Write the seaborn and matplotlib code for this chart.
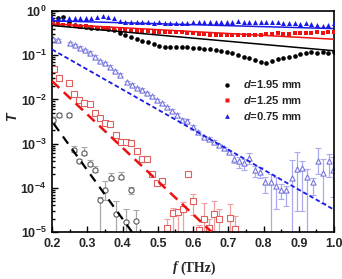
import numpy as np
import pandas as pd
import matplotlib
matplotlib.use("Agg")
import matplotlib.pyplot as plt
import seaborn as sns
from matplotlib.ticker import FixedLocator, FixedFormatter, LogLocator, NullFormatter, MultipleLocator
from matplotlib.lines import Line2D

# ---------------- data ----------------
f_fill = [0.200, 0.216, 0.232, 0.248, 0.264, 0.280, 0.296, 0.312, 0.328, 0.344,
          0.360, 0.376, 0.392, 0.408, 0.424, 0.440, 0.456, 0.472, 0.488, 0.504,
          0.520, 0.536, 0.552, 0.568, 0.584, 0.600, 0.616, 0.632, 0.648, 0.664,
          0.680, 0.696, 0.712, 0.728, 0.744, 0.760, 0.776, 0.792, 0.808, 0.824,
          0.840, 0.856, 0.872, 0.888, 0.904, 0.920, 0.936, 0.952, 0.968, 0.984, 1.000]

T_blue_fill = [0.68, 0.66, 0.67, 0.69, 0.68, 0.70, 0.69, 0.71, 0.74, 0.76,
               0.75, 0.70, 0.58, 0.56, 0.57, 0.56, 0.55, 0.55, 0.54, 0.55,
               0.54, 0.53, 0.54, 0.53, 0.54, 0.55, 0.55, 0.56, 0.56, 0.57,
               0.57, 0.56, 0.57, 0.58, 0.57, 0.57, 0.56, 0.57, 0.56, 0.55,
               0.56, 0.54, 0.53, 0.54, 0.52, 0.53, 0.50, 0.47, 0.46, 0.49, 0.53]

T_red_fill = [0.60, 0.52, 0.48, 0.47, 0.45, 0.44, 0.45, 0.43, 0.42, 0.42,
              0.41, 0.40, 0.38, 0.37, 0.36, 0.36, 0.35, 0.35, 0.34, 0.34,
              0.33, 0.34, 0.33, 0.33, 0.32, 0.31, 0.30, 0.30, 0.29, 0.29,
              0.29, 0.28, 0.29, 0.28, 0.28, 0.29, 0.28, 0.29, 0.30, 0.30,
              0.31, 0.30, 0.30, 0.31, 0.31, 0.32, 0.32, 0.33, 0.32, 0.33, 0.34]

T_black_fill = [0.60, 0.68, 0.72, 0.55, 0.48, 0.45, 0.43, 0.42, 0.42, 0.41,
                0.40, 0.38, 0.31, 0.28, 0.26, 0.23, 0.21, 0.20, 0.18, 0.165,
                0.155, 0.155, 0.155, 0.150, 0.152, 0.148, 0.145, 0.140, 0.135, 0.132,
                0.125, 0.118, 0.112, 0.100, 0.092, 0.085, 0.078, 0.070, 0.068, 0.074,
                0.080, 0.085, 0.090, 0.096, 0.104, 0.112, 0.118, 0.112, 0.118, 0.115, 0.120]

# fitted lines (end points)
fit_f = [0.2, 1.0]
fit_black = [0.47, 0.126]
fit_red = [0.51, 0.23]
fit_blue = [0.60, 0.40]
dash_black_f = [0.205, 0.427]
dash_black_T = [2.8e-3, 1.0e-5]
dash_red_f = [0.2, 0.653]
dash_red_T = [0.026, 1.0e-5]
dash_blue_f = [0.2, 1.0]
dash_blue_T = [0.135, 3.2e-5]

# open (weak) series with asymmetric error bars (in decades)
f_open_black = [0.204, 0.221, 0.249, 0.263, 0.278, 0.292, 0.308, 0.322, 0.337, 0.351,
                0.367, 0.381, 0.396, 0.411, 0.425, 0.439]
T_open_black = [3.5e-3, 4.5e-3, 4.5e-3, 7.1e-4, 4.1e-4, 6.2e-4, 3.4e-4, 2.5e-4, 5.4e-5, 8.9e-5,
                1.7e-4, 2.5e-5, 1.8e-4, 1.7e-5, 8.9e-5, 1.8e-5]
up_open_black = [0.05, 0.05, 0.05, 0.10, 0.04, 0.14, 0.10, 0.10, 0.05, 0.21,
                 0.10, 0.30, 0.10, 0.30, 0.08, 0.25]
dn_open_black = [0.05, 0.05, 0.05, 0.05, 0.04, 0.04, 0.04, 0.04, 2.0, 0.22,
                 0.05, 2.0, 0.05, 2.0, 0.08, 2.0]

f_open_red = [0.206, 0.221, 0.249, 0.263, 0.278, 0.292, 0.308, 0.322, 0.337, 0.351,
              0.365, 0.382, 0.396, 0.411, 0.425, 0.441, 0.455, 0.470, 0.484, 0.498,
              0.512, 0.527, 0.543, 0.557, 0.572, 0.586, 0.600, 0.617, 0.631, 0.645,
              0.659, 0.673, 0.704, 0.719]
T_open_red = [4.9e-2, 3.1e-2, 2.3e-2, 1.3e-2, 9.8e-3, 8.5e-3, 7.8e-3, 4.9e-3, 3.7e-3, 2.9e-3,
              2.75e-3, 1.6e-3, 1.07e-3, 1.1e-3, 1.05e-3, 6.8e-4, 4.5e-4, 4.4e-4, 2.1e-4, 1.26e-4,
              1.4e-4, 1.26e-5, 2.75e-5, 2.9e-5, 3.3e-5, 2.0e-4, 4.9e-5, 1.1e-5, 2.0e-5, 1.26e-5,
              2.6e-5, 2.0e-5, 2.1e-5, 1.2e-5]
up_open_red = [0.04] * 21 + [0.19, 0.11, 0.05, 0.15, 0.05, 0.17, 0.12, 0.36, 0.20,
                             0.29, 0.23, 0.30, 0.28]
dn_open_red = [0.04] * 21 + [0.10, 2.0, 2.0, 2.0, 0.05, 0.30, 0.05, 2.0, 0.10,
                             2.0, 2.0, 2.0, 0.10]

f_open_blue = [0.204, 0.218, 0.251, 0.265, 0.280, 0.294, 0.308, 0.322, 0.337, 0.351,
               0.365, 0.379, 0.394, 0.413, 0.427, 0.441, 0.455, 0.470, 0.484, 0.498,
               0.512, 0.527, 0.541, 0.555, 0.569, 0.583, 0.600, 0.615, 0.631, 0.645,
               0.659, 0.673, 0.688, 0.702, 0.716, 0.730, 0.745, 0.760, 0.776, 0.790,
               0.805, 0.820, 0.836, 0.850, 0.864, 0.881, 0.896, 0.910, 0.924, 0.941,
               0.955, 0.970, 0.985, 0.998]
T_open_blue = [0.229, 0.219, 0.186, 0.166, 0.148, 0.132, 0.115, 0.093, 0.074, 0.065,
               0.055, 0.044, 0.036, 0.0245, 0.0214, 0.0182, 0.0166, 0.0138, 0.0117, 0.0095,
               0.0081, 0.0066, 0.0056, 0.0045, 0.0035, 0.0033, 0.0024, 0.0018, 0.0014, 0.0013,
               0.0011, 9.1e-4, 7.8e-4, 6.5e-4, 4.6e-4, 4.0e-4, 3.6e-4, 4.8e-4, 2.5e-4, 2.3e-4,
               1.35e-4, 1.35e-4, 1.12e-4, 8.7e-5, 8.7e-5, 1.66e-4, 2.6e-4, 2.8e-4, 1.8e-4, 1.35e-4,
               4.0e-4, 2.2e-4, 4.1e-4, 2.5e-4]
up_open_blue = [0.03] * 34 + [0.08, 0.10, 0.10, 0.10, 0.10, 0.10,
                              0.11, 0.19, 0.19, 0.15, 0.10, 0.42, 0.40, 0.15, 0.17, 0.10,
                              0.30, 0.32, 0.15, 0.30]
dn_open_blue = [0.03] * 34 + [0.10, 0.15, 0.15, 0.15, 0.15, 0.15,
                              0.25, 2.0, 0.53, 0.20, 0.34, 2.0, 0.93, 0.97, 2.0, 0.30,
                              0.30, 0.68, 0.37, 0.60]

xticks = [0.2, 0.3, 0.4, 0.5, 0.6, 0.7, 0.8, 0.9, 1.0]
xticklabels = ["0.2", "0.3", "0.4", "0.5", "0.6", "0.7", "0.8", "0.9", "1.0"]
yticks = [1e-5, 1e-4, 1e-3, 1e-2, 1e-1, 1e0]
yticklabels = [r"$\mathbf{10^{-5}}$", r"$\mathbf{10^{-4}}$", r"$\mathbf{10^{-3}}$",
               r"$\mathbf{10^{-2}}$", r"$\mathbf{10^{-1}}$", r"$\mathbf{10^{0}}$"]
legend_labels = [r"$\mathit{d}$=1.95 mm", r"$\mathit{d}$=1.25 mm", r"$\mathit{d}$=0.75 mm"]

# ---------------- style ----------------
sns.set_theme(style="ticks")
plt.rcParams["font.family"] = ["Liberation Sans", "DejaVu Sans"]
plt.rcParams["mathtext.fontset"] = "custom"
plt.rcParams["mathtext.rm"] = "Liberation Sans:bold"
plt.rcParams["mathtext.bf"] = "Liberation Sans:bold"
plt.rcParams["mathtext.it"] = "Liberation Sans:italic:bold"

BLACK = "#000000"
RED = "#ee1111"
BLUE = "#1a1ae6"
G_OPEN = "#5a5a5a"
G_ERR = "#a8a8a8"
R_OPEN = "#e06060"
R_ERR = "#eea0a0"
B_OPEN = "#7777dd"
B_ERR = "#aaaaee"

fig = plt.figure(figsize=(3.42, 2.79), dpi=100)
ax = fig.add_axes([52 / 342, 1 - 232 / 279, (334 - 52) / 342, (232 - 11) / 279])


def draw_open(fv, tv, up, dn, mk, mc, ec):
    t = np.array(tv)
    lo = t - t * 10.0 ** (-np.array(dn))
    hi = t * 10.0 ** np.array(up) - t
    ax.errorbar(fv, t, yerr=[lo, hi], fmt="none", ecolor=ec, elinewidth=0.9,
                capsize=2.2, capthick=0.8, zorder=1)
    sns.scatterplot(x=fv, y=tv, ax=ax, marker=mk, s=14, facecolor="white",
                    edgecolor=mc, linewidth=0.8, zorder=2, legend=False)


draw_open(f_open_black, T_open_black, up_open_black, dn_open_black, "o", G_OPEN, G_ERR)
draw_open(f_open_red, T_open_red, up_open_red, dn_open_red, "s", R_OPEN, R_ERR)
draw_open(f_open_blue, T_open_blue, up_open_blue, dn_open_blue, "^", B_OPEN, B_ERR)

# dashed fits
sns.lineplot(x=dash_black_f, y=dash_black_T, ax=ax, color=BLACK, lw=1.6, zorder=3)
ax.lines[-1].set_dashes([4, 3])
sns.lineplot(x=dash_red_f, y=dash_red_T, ax=ax, color=RED, lw=1.8, zorder=3)
ax.lines[-1].set_dashes([4, 2.5])
sns.lineplot(x=dash_blue_f, y=dash_blue_T, ax=ax, color=BLUE, lw=1.3, zorder=3)
ax.lines[-1].set_dashes([2.5, 1.5])

# filled series
sns.scatterplot(x=f_fill, y=T_black_fill, ax=ax, marker="o", s=11, color=BLACK,
                linewidth=0, zorder=4, legend=False)
sns.scatterplot(x=f_fill, y=T_red_fill, ax=ax, marker="s", s=10, color=RED,
                linewidth=0, zorder=4, legend=False)
sns.scatterplot(x=f_fill, y=T_blue_fill, ax=ax, marker="^", s=13, color=BLUE,
                linewidth=0, zorder=4, legend=False)

# solid fits
sns.lineplot(x=fit_f, y=fit_black, ax=ax, color=BLACK, lw=1.1, zorder=5)
sns.lineplot(x=fit_f, y=fit_red, ax=ax, color=RED, lw=1.1, zorder=5)
sns.lineplot(x=fit_f, y=fit_blue, ax=ax, color=BLUE, lw=1.1, zorder=5)

ax.set_yscale("log")
ax.set_xlim(0.2, 1.0)
ax.set_ylim(1e-5, 1.0)
ax.xaxis.set_major_locator(FixedLocator(xticks))
ax.xaxis.set_major_formatter(FixedFormatter(xticklabels))
ax.xaxis.set_minor_locator(MultipleLocator(0.05))
ax.yaxis.set_major_locator(FixedLocator(yticks))
ax.yaxis.set_major_formatter(FixedFormatter(yticklabels))
ax.yaxis.set_minor_locator(LogLocator(base=10, subs=np.arange(2, 10)))
ax.yaxis.set_minor_formatter(NullFormatter())
ax.tick_params(which="both", direction="in", width=1.0, color="black")
ax.tick_params(which="major", length=4)
ax.tick_params(which="minor", length=2.5)
ax.tick_params(axis="x", which="major", pad=4, labelsize=9)
ax.tick_params(axis="y", which="major", pad=4, labelsize=9)
for lab in ax.get_xticklabels():
    lab.set_fontweight("bold")
for sp in ax.spines.values():
    sp.set_visible(True)
    sp.set_linewidth(1.2)
    sp.set_color("black")
ax.set_xlabel("")
ax.set_ylabel("")

fig.text(12 / 342, 1 - 117 / 279, "T", rotation=90, ha="center", va="center",
         fontsize=10, fontstyle="italic", fontweight="bold", family="Liberation Sans")
fig.text(178 / 342, 1 - 268 / 279, "f", ha="right", va="center", fontsize=10,
         fontstyle="italic", fontweight="bold", family="Liberation Serif")
fig.text(180 / 342, 1 - 268 / 279, "(THz)", ha="left", va="center", fontsize=10,
         fontweight="bold", family="Liberation Serif")

handles = [
    Line2D([], [], ls="none", marker="o", ms=3.2, color=BLACK, mec="none"),
    Line2D([], [], ls="none", marker="s", ms=3.0, color=RED, mec="none"),
    Line2D([], [], ls="none", marker="^", ms=3.4, color=BLUE, mec="none"),
]
ax.legend(handles, legend_labels, loc="upper left", bbox_to_anchor=(0.575, 0.73),
          frameon=False, prop={"weight": "bold", "size": 8},
          handlelength=1.0, handletextpad=0.9, labelspacing=0.35, borderpad=0.2)

fig.savefig("out.png", dpi=100)
